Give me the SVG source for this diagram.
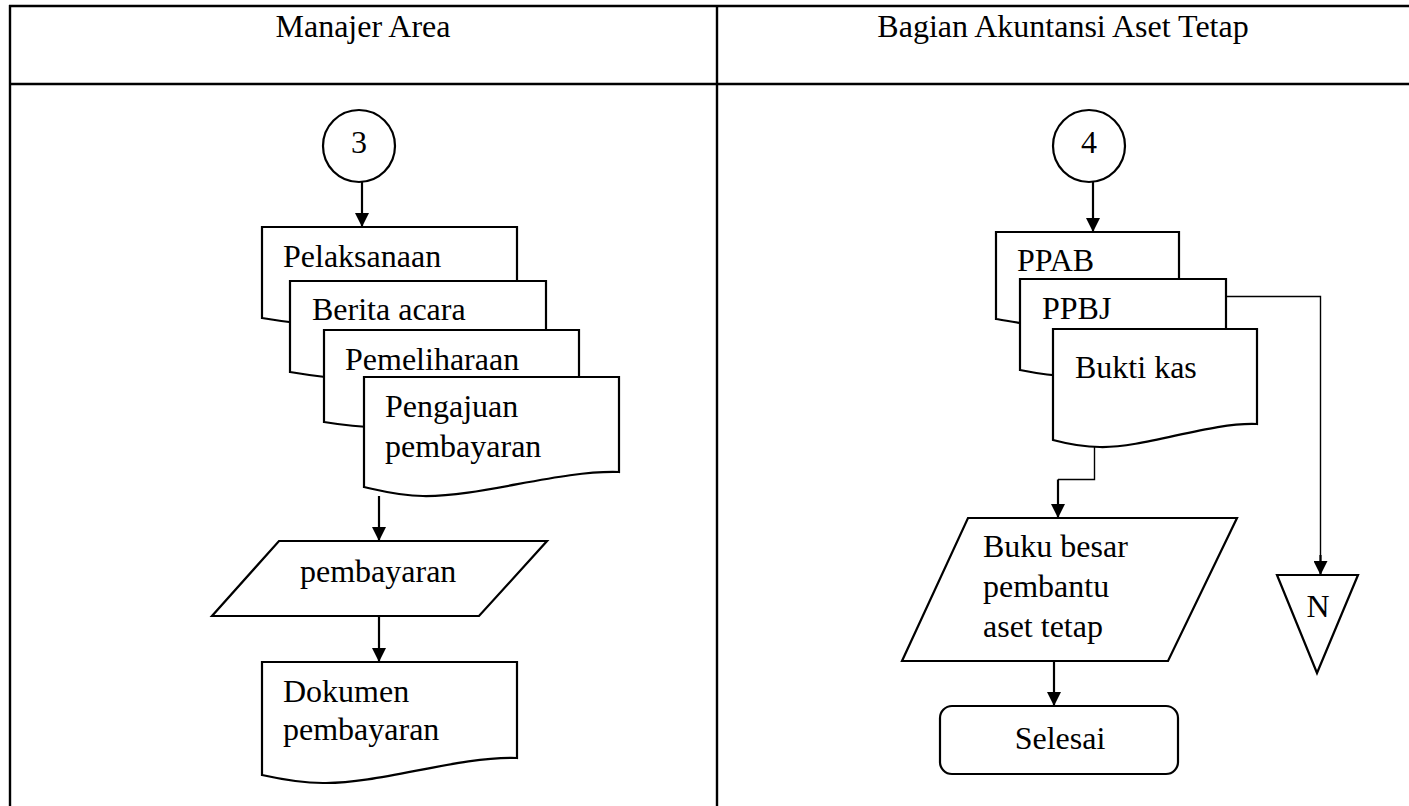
<svg xmlns="http://www.w3.org/2000/svg" width="1409" height="806" viewBox="0 0 1409 806">
<defs>
<style>
.t{font-family:"Liberation Serif","Times New Roman",serif;font-size:32px;fill:#000}
.c{text-anchor:middle}
.s{fill:#fff;stroke:#000;stroke-width:2.2}
.ln{fill:none;stroke:#000;stroke-width:2.2}
.thin{fill:none;stroke:#000;stroke-width:1.4}
.grid{fill:none;stroke:#000;stroke-width:2.4}
</style>
<marker id="ah" markerUnits="userSpaceOnUse" markerWidth="14" markerHeight="14" refX="14" refY="7" orient="auto">
<path d="M0,0 L14,7 L0,14 Z" fill="#000"/>
</marker>
</defs>
<rect width="1409" height="806" fill="#fff"/>
<g id="table">
<line class="grid" x1="9" y1="6" x2="1409" y2="6"/>
<line class="grid" x1="9" y1="84" x2="1409" y2="84"/>
<line class="grid" x1="10" y1="5" x2="10" y2="806"/>
<line class="grid" x1="717" y1="5" x2="717" y2="806"/>
<text class="t c" x="363" y="37">Manajer Area</text>
<text class="t c" x="1063" y="37">Bagian Akuntansi Aset Tetap</text>
</g>
<g id="connectors">
<line class="ln" x1="362" y1="182" x2="362" y2="227" marker-end="url(#ah)"/>
<line class="ln" x1="379" y1="496" x2="379" y2="541" marker-end="url(#ah)"/>
<line class="ln" x1="379" y1="616" x2="379" y2="662" marker-end="url(#ah)"/>
<line class="ln" x1="1093" y1="182" x2="1093" y2="232" marker-end="url(#ah)"/>
<polyline class="thin" points="1226,296.5 1320.5,296.5 1320.5,565"/>
<line class="ln" x1="1320.5" y1="555" x2="1320.5" y2="575" marker-end="url(#ah)"/>
<polyline class="thin" points="1094.5,447 1094.5,479.5 1058,479.5"/>
<polyline class="ln" points="1058,479.5 1058,518" marker-end="url(#ah)"/>
<line class="ln" x1="1054" y1="661" x2="1054" y2="706" marker-end="url(#ah)"/>
</g>
<g id="conn3">
<circle class="s" cx="359" cy="146" r="36"/>
<text class="t c" x="359" y="153">3</text>
</g>
<g id="doc-pelaksanaan">
<path class="s" d="M262,227 H517 V303 C460,301 380,326 322,325 C300,324 280,321 262,318 Z"/>
<text class="t" x="283" y="267">Pelaksanaan</text>
</g>
<g id="doc-berita">
<path class="s" d="M290,281 H546 V357 C489,355 409,380 350,379 C328,378 308,375 290,372 Z"/>
<text class="t" x="312" y="320">Berita acara</text>
</g>
<g id="doc-pemeliharaan">
<path class="s" d="M324,330 H579 V406 C522,404 442,429 384,428 C362,427 342,425 324,422 Z"/>
<text class="t" x="345" y="370">Pemeliharaan</text>
</g>
<g id="doc-pengajuan">
<path class="s" d="M364,377 H619 V472 C560,470 480,497 423,496 C400,496 382,491 364,487 Z"/>
<text class="t" x="385" y="417">Pengajuan</text>
<text class="t" x="385" y="457">pembayaran</text>
</g>
<g id="io-pembayaran">
<polygon class="s" points="279,541 547,541 479,616 212,616"/>
<text class="t" x="300" y="582">pembayaran</text>
</g>
<g id="doc-dokumen">
<path class="s" d="M262,662 H517 V758 C458,756 380,784 323,783 C300,783 280,779 262,775 Z"/>
<text class="t" x="283" y="702">Dokumen</text>
<text class="t" x="283" y="740">pembayaran</text>
</g>
<g id="conn4">
<circle class="s" cx="1089" cy="146" r="36"/>
<text class="t c" x="1089" y="153">4</text>
</g>
<g id="doc-ppab">
<path class="s" d="M996,232 H1179 V304 C1138,302 1080,326 1039,325 C1022,324 1009,321 996,319 Z"/>
<text class="t" x="1017" y="271">PPAB</text>
</g>
<g id="doc-ppbj">
<path class="s" d="M1020,279 H1226 V355 C1180,353 1115,377 1068,376 C1050,376 1035,373 1020,370 Z"/>
<text class="t" x="1042" y="319">PPBJ</text>
</g>
<g id="doc-bukti">
<path class="s" d="M1053,329 H1257 V424 C1210,422 1145,448 1100,447 C1082,447 1068,444 1053,440 Z"/>
<text class="t" x="1075" y="378">Bukti kas</text>
</g>
<g id="io-buku">
<polygon class="s" points="968,518 1237,518 1168,661 902,661"/>
<text class="t" x="983" y="557">Buku besar</text>
<text class="t" x="983" y="597">pembantu</text>
<text class="t" x="983" y="637">aset tetap</text>
</g>
<g id="offpage-n">
<polygon class="s" points="1277,575 1358,575 1317,673"/>
<text class="t c" x="1318" y="617">N</text>
</g>
<g id="term-selesai">
<rect class="s" x="940" y="706" width="238" height="68" rx="12"/>
<text class="t c" x="1060" y="749">Selesai</text>
</g>
</svg>
